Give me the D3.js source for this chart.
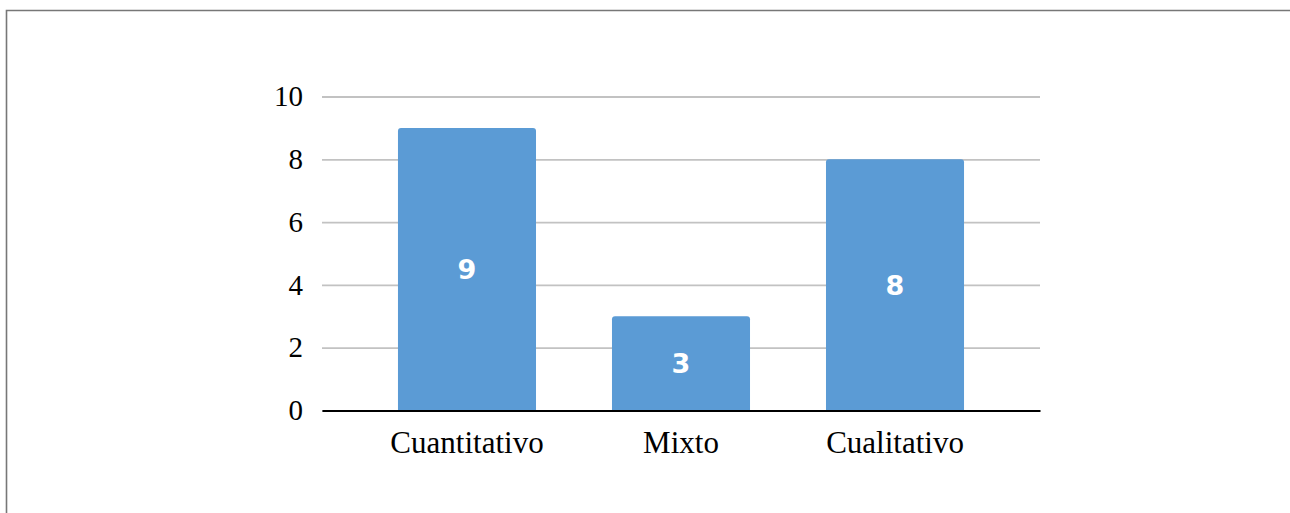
<!DOCTYPE html>
<html>
<head>
<meta charset="utf-8">
<script src="https://cdn.jsdelivr.net/npm/d3@7"></script>
<style>
  body { margin: 0; background: #fff; }
  svg { display: block; }
</style>
</head>
<body>
<div id="chart"></div>
<script>

// data for the bar chart
var categories      =   [ "Cuantitativo", "Mixto", "Cualitativo" ];
var values          =   [ 9, 3, 8 ];
var y_ticks         =   [ 0, 2, 4, 6, 8, 10 ];

// --------------------------------------------------------

// Chart size parameters
var chart_width     =   1290;
var chart_height    =   513;
var plot_left       =   322;
var plot_right      =   1040;
var plot_top        =   96.5;
var plot_bottom     =   410.5;

var svg = d3.select( "#chart" )
	.append( 'svg' )
	.attr( "width", chart_width )
	.attr( "height", chart_height );

// frame (only top and left edges are visible in the picture)
svg.append( 'path' )
	.attr( 'd', 'M6.5,' + chart_height + 'V10.5H' + chart_width )
	.attr( 'fill', 'none' )
	.attr( 'stroke', '#777' )
	.attr( 'stroke-width', 1.6 );

// --------------------------------------------------------
// Scales
const x_scale = d3.scaleBand()
	.domain( categories )
	.range( [plot_left, plot_right] )
	.padding( 0.355 );

const y_scale = d3.scaleLinear()
	.domain( [0, 10] )
	.range( [plot_bottom, plot_top] );

// --------------------------------------------------------
// gridlines + y labels via axisLeft
const y_axis = d3.axisLeft( y_scale )
	.tickValues( y_ticks )
	.tickSize( -(plot_right - plot_left) )
	.tickPadding( 19 );

const gy = svg.append( 'g' )
	.attr( 'class', 'y-axis' )
	.attr( 'transform', 'translate(' + plot_left + ',0)' )
	.call( y_axis );

gy.select( '.domain' ).remove();
gy.selectAll( '.tick line' )
	.attr( 'stroke', '#c2c2c2' )
	.attr( 'stroke-width', 1.8 );
gy.selectAll( '.tick text' )
	.attr( 'font-family', '"Liberation Serif", "Times New Roman", serif' )
	.attr( 'font-size', 29 )
	.attr( 'fill', '#000' );

// --------------------------------------------------------
// bars with rounded top corners
var r = 3;
svg.append( 'g' )
	.selectAll( 'path' )
	.data( values )
	.enter()
	.append( 'path' )
	.attr( 'd', (d, i) => {
		var x0 = x_scale( categories[i] );
		var w  = x_scale.bandwidth();
		var y0 = y_scale( d );
		var y1 = y_scale( 0 );
		return 'M' + x0 + ',' + y1 +
			'V' + (y0 + r) +
			'Q' + x0 + ',' + y0 + ' ' + (x0 + r) + ',' + y0 +
			'H' + (x0 + w - r) +
			'Q' + (x0 + w) + ',' + y0 + ' ' + (x0 + w) + ',' + (y0 + r) +
			'V' + y1 + 'Z';
	})
	.attr( 'fill', '#5b9bd5' );

// baseline
const x_axis = d3.axisBottom( x_scale )
	.tickSize( 0 )
	.tickPadding( 20 );

const gx = svg.append( 'g' )
	.attr( 'class', 'x-axis' )
	.attr( 'transform', 'translate(0,' + plot_bottom + ')' )
	.call( x_axis );

gx.select( '.domain' )
	.attr( 'stroke', '#000' )
	.attr( 'stroke-width', 2.2 );
gx.selectAll( '.tick text' )
	.attr( 'font-family', '"Liberation Serif", "Times New Roman", serif' )
	.attr( 'font-size', 31 )
	.attr( 'fill', '#000' );

// --------------------------------------------------------
// value labels inside the bars
svg.append( 'g' )
	.selectAll( 'text' )
	.data( values )
	.enter()
	.append( 'text' )
	.text( (d) => d )
	.attr( 'x', (d, i) => x_scale( categories[i] ) + x_scale.bandwidth() / 2 )
	.attr( 'y', (d) => ( y_scale( d ) + y_scale( 0 ) ) / 2 )
	.attr( 'dy', '0.36em' )
	.attr( 'text-anchor', 'middle' )
	.attr( 'font-family', '"DejaVu Sans", Verdana, sans-serif' )
	.attr( 'font-weight', 'bold' )
	.attr( 'font-size', 27 )
	.attr( 'fill', '#fff' );

</script>
</body>
</html>
